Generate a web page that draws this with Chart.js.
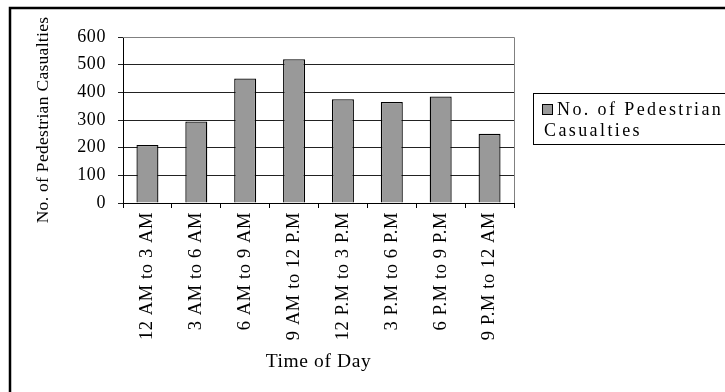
<!DOCTYPE html>
<html><head><meta charset="utf-8">
<script src="https://cdn.jsdelivr.net/npm/chart.js@4.4.1/dist/chart.umd.min.js"></script>
<style>html,body{margin:0;padding:0;background:#fff;}canvas{display:block}</style>
</head><body>
<canvas id="c" width="725" height="392"></canvas>
<script>
const categories = ['12 AM to 3 AM','3 AM to 6 AM','6 AM to 9 AM','9 AM to 12 P.M','12 P.M to 3 P.M','3 P.M to 6 P.M','6 P.M to 9 P.M','9 P.M to 12 AM'];
const seriesLabel = 'No. of Pedestrian Casualties';
const legendLines = ['No. of Pedestrian','Casualties'];
const casualties = [210, 295, 450, 520, 375, 365, 385, 250];
const yTickValues = [0, 100, 200, 300, 400, 500, 600];
const xTitle = 'Time of Day';
const yTitle = 'No. of Pedestrian Casualties';

const FONT = "'Liberation Serif', 'Times New Roman', serif";
const SPACING = '0.6px';

const spacingPlugin = {
  id: 'spacing',
  beforeLayout(chart) { chart.ctx.letterSpacing = SPACING; },
  beforeDraw(chart) { chart.ctx.letterSpacing = SPACING; }
};

function patchTitleSpacing(s, spacing) {
  if (s._spacingPatched) return;
  const orig = s.drawTitle;
  s.drawTitle = function () {
    const c = this.ctx, o = c.letterSpacing;
    c.letterSpacing = spacing;
    orig.apply(this, arguments);
    c.letterSpacing = o;
  };
  s._spacingPatched = true;
}

const framePlugin = {
  id: 'frame',
  afterDraw(chart) {
    const ctx = chart.ctx, a = chart.chartArea;
    ctx.save();
    ctx.strokeStyle = '#000'; ctx.lineWidth = 2.5;
    ctx.beginPath();
    ctx.moveTo(10, 400); ctx.lineTo(10, 8); ctx.lineTo(740, 8);
    ctx.stroke();
    ctx.strokeStyle = '#808080'; ctx.lineWidth = 1;
    ctx.beginPath();
    ctx.moveTo(a.left, a.top + 0.5); ctx.lineTo(a.right + 0.5, a.top + 0.5); ctx.lineTo(a.right + 0.5, a.bottom);
    ctx.stroke();
    const ds = chart.data.datasets[0];
    const lx = 533, ly = 93, lw = 200, lh = 51;
    ctx.strokeStyle = '#000'; ctx.lineWidth = 1;
    ctx.strokeRect(lx + 0.5, ly + 0.5, lw, lh);
    ctx.fillStyle = ds.backgroundColor;
    ctx.fillRect(542.5, 104.5, 10, 10);
    ctx.strokeStyle = '#000';
    ctx.strokeRect(542.5, 104.5, 10, 10);
    ctx.fillStyle = '#000';
    ctx.font = "18px " + FONT;
    ctx.textBaseline = 'middle';
    ctx.letterSpacing = '2.4px';
    ctx.fillText(legendLines[0], 557, 110);
    ctx.fillText(legendLines[1], 544, 131);
    ctx.restore();
  }
};

new Chart(document.getElementById('c'), {
  type: 'bar',
  data: {
    labels: categories,
    datasets: [{
      label: seriesLabel,
      data: casualties,
      backgroundColor: '#999999',
      borderColor: '#000',
      borderWidth: 1.3,
      barPercentage: 0.45,
      categoryPercentage: 1
    }]
  },
  options: {
    responsive: false,
    animation: false,
    devicePixelRatio: 1,
    layout: { padding: { left: 30, top: 37, right: 211, bottom: 14 } },
    plugins: { legend: { display: false }, tooltip: { enabled: false } },
    scales: {
      x: {
        afterFit(s) { s.height = 175; },
        grid: { display: true, drawOnChartArea: false, color: '#000', tickLength: 5, offset: true },
        border: { color: '#000', width: 1 },
        ticks: { color: '#000', font: { family: FONT, size: 18.5 }, maxRotation: 90, minRotation: 90, padding: 4, autoSkip: false },
        title: { display: true, text: xTitle, color: '#000', font: { family: FONT, size: 19.5 }, padding: { top: 4, bottom: 4 } }
      },
      y: {
        min: 0, max: 600,
        afterFit(s) { s.width = 93; patchTitleSpacing(s, '0.3px'); },
        afterBuildTicks(s) { s.ticks = yTickValues.map(v => ({ value: v })); },
        grid: { color: '#222', tickLength: 5, drawTicks: true },
        border: { color: '#000', width: 1 },
        ticks: { color: '#000', font: { family: FONT, size: 18 }, padding: 12 },
        title: { display: true, text: yTitle, color: '#000', font: { family: FONT, size: 17.5 }, padding: { top: 3, bottom: 3 } }
      }
    }
  },
  plugins: [spacingPlugin, framePlugin]
});
</script>
</body></html>
